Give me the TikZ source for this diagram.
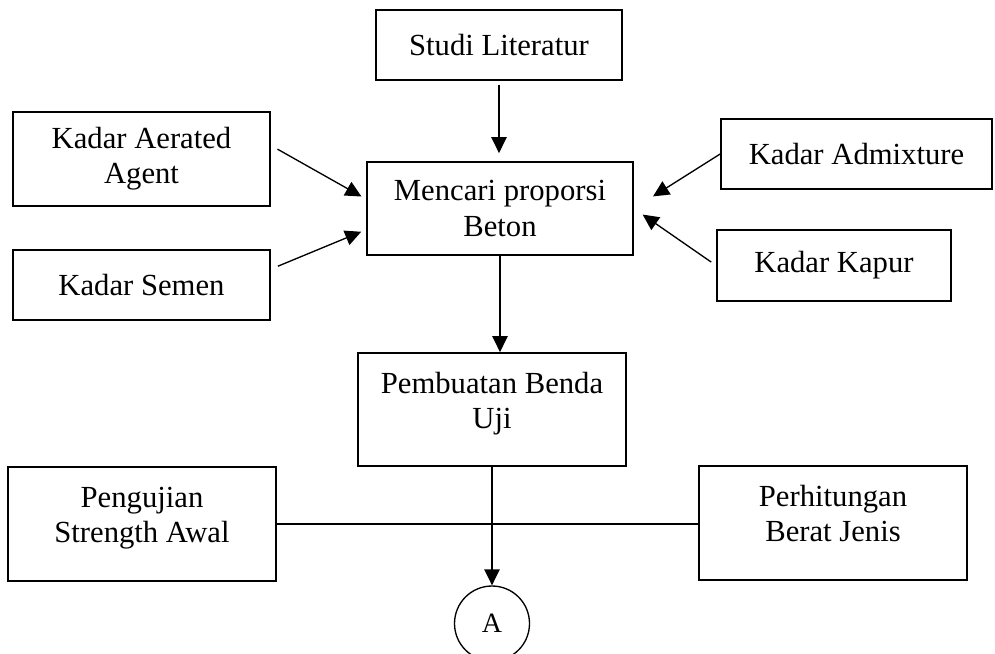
\documentclass[tikz,border=0pt]{standalone}
\usepackage{fontspec}
\setmainfont{Liberation Serif}
\usetikzlibrary{arrows.meta}

\begin{document}
\begin{tikzpicture}[x=0.75pt,y=0.75pt,yscale=-1,xscale=1,
	kotak/.style={draw,line width=1.3pt,align=center,inner sep=2pt,font=\fontsize{23}{26.3}\selectfont},
	naik/.style={text depth=14pt},
	panah/.style={line width=1pt,-{Triangle[length=12pt,width=11.5pt]}},
	garis/.style={line width=1pt}]
	\useasboundingbox (0,0) rectangle (995,653);
	\node [kotak,minimum width=184.5pt,minimum height=52.5pt] (studi) at (499,45) {Studi Literatur};
	\node [kotak,minimum width=192.75pt,minimum height=70.5pt] (aerated) at (141.5,159) {Kadar Aerated\\Agent};
	\node [kotak,minimum width=192.75pt,minimum height=52.5pt] (semen) at (141.5,285) {Kadar Semen};
	\node [kotak,minimum width=199.5pt,minimum height=69.75pt] (mencari) at (500,208.5) {Mencari proporsi\\Beton};
	\node [kotak,minimum width=203.25pt,minimum height=52.5pt] (admixture) at (856.5,154) {Kadar Admixture};
	\node [kotak,minimum width=175.5pt,minimum height=53.25pt] (kapur) at (834,265.5) {Kadar Kapur};
	\node [kotak,naik,minimum width=201pt,minimum height=84.75pt] (pembuatan) at (492,409.5) {Pembuatan Benda\\Uji};
	\node [kotak,naik,minimum width=201pt,minimum height=85.5pt] (pengujian) at (142,524) {Pengujian\\Strength Awal};
	\node [kotak,naik,minimum width=201pt,minimum height=85.5pt] (perhitungan) at (833,523) {Perhitungan\\Berat Jenis};
	\node [draw,circle,line width=1pt,minimum size=56.25pt,inner sep=0pt,font=\fontsize{21}{24}\selectfont] (A) at (492,623.5) {A};
	\draw [panah,shorten <=3pt,shorten >=6pt] (studi.south) -- (studi.south |- mencari.north);
	\draw [panah,shorten <=5.7pt,shorten >=4pt] (aerated.6) -- (mencari.176);
	\draw [panah,shorten <=5.7pt,shorten >=4pt] (semen.7) -- (mencari.189);
	\draw [panah,shorten >=17pt] (admixture.west) -- (mencari.east);
	\draw [panah,shorten <=4.5pt,shorten >=8pt] (kapur.west) -- (mencari.east);
	\draw [panah] (mencari.south) -- (mencari.south |- pembuatan.north);
	\draw [panah] (pembuatan.south) -- (A.north);
	\draw [garis] (pengujian.east) -- (pengujian.east -| perhitungan.west);
\end{tikzpicture}
\end{document}
